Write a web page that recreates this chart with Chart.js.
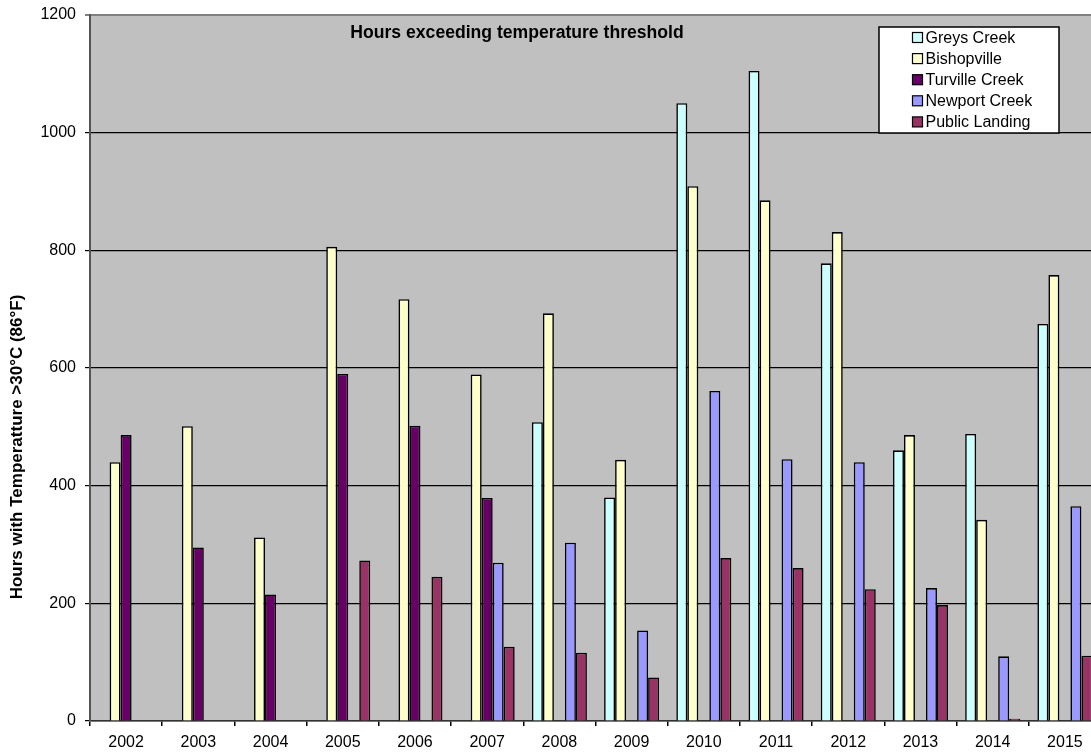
<!DOCTYPE html>
<html>
<head>
<meta charset="utf-8">
<script src="https://cdn.jsdelivr.net/npm/chart.js@4/dist/chart.umd.min.js"></script>
<style>
  html, body { margin: 0; padding: 0; background: #fff; overflow: hidden; width: 1091px; height: 756px; }
  canvas { display: block; }
</style>
</head>
<body>
<canvas id="chart" width="1101" height="756" style="width:1101px;height:756px"></canvas>
<script>
// Hours per year above the 30 °C threshold, by monitoring site
const years = ['2002', '2003', '2004', '2005', '2006', '2007', '2008', '2009', '2010', '2011', '2012', '2013', '2014', '2015'];
const greysCreek    = [null, null, null, null, null, null, 508, 380, 1050, 1105, 778, 460, 488, 675];
const bishopville   = [440, 501, 312, 806, 717, 589, 693, 444, 909, 885, 831, 486, 342, 758];
const turvilleCreek = [486, 295, 215, 590, 502, 379, null, null, null, null, null, null, null, null];
const newportCreek  = [null, null, null, null, null, 269, 303, 154, 561, 445, 440, 226, 110, 365];
const publicLanding = [null, null, null, 273, 245, 126, 116, 74, 277, 260, 224, 197, 4, 111];
const yTicks = [0, 200, 400, 600, 800, 1000, 1200];

const FONT = "'Liberation Sans', Arial, sans-serif";
const chartTitle = 'Hours exceeding temperature threshold';
const yTitle = 'Hours with Temperatture >30°C (86°F)';

// Grey plot background, title inside the plot, rotated axis title
const backdrop = {
  id: 'backdrop',
  beforeDraw(chart) {
    const { ctx, chartArea: a } = chart;
    ctx.save();
    ctx.fillStyle = '#ffffff';
    ctx.fillRect(0, 0, chart.width, chart.height);
    ctx.fillStyle = '#c0c0c0';
    ctx.fillRect(a.left, a.top, a.right - a.left, a.bottom - a.top);
    ctx.restore();
  },
  afterDraw(chart) {
    const { ctx } = chart;
    ctx.save();
    ctx.fillStyle = '#000';
    ctx.font = `bold 17.6px ${FONT}`;
    ctx.textAlign = 'center';
    ctx.textBaseline = 'middle';
    ctx.fillText(chartTitle, 517, 33);
    ctx.translate(17, 447);
    ctx.rotate(-Math.PI / 2);
    ctx.font = `bold 17px ${FONT}`;
    ctx.fillText(yTitle, 0, 0);
    ctx.restore();
  }
};

// Boxed legend in the upper right of the plot
const boxLegend = {
  id: 'boxLegend',
  afterDraw(chart) {
    const { ctx } = chart;
    const x = 879, y = 27, w = 180, h = 106;
    ctx.save();
    ctx.fillStyle = '#fff';
    ctx.fillRect(x, y, w, h);
    ctx.strokeStyle = '#000';
    ctx.lineWidth = 1.5;
    ctx.strokeRect(x, y, w, h);
    ctx.font = `16px ${FONT}`;
    ctx.textBaseline = 'middle';
    ctx.textAlign = 'left';
    chart.data.datasets.forEach((ds, i) => {
      const cy = 37.5 + i * 21.1;
      ctx.fillStyle = ds.backgroundColor;
      ctx.fillRect(912.5, cy - 5, 10, 10);
      ctx.lineWidth = 1.2;
      ctx.strokeStyle = '#000';
      ctx.strokeRect(912.5, cy - 5, 10, 10);
      ctx.fillStyle = '#000';
      ctx.fillText(ds.label, 925.5, cy + 1);
    });
    ctx.restore();
  }
};

const series = [
  { label: 'Greys Creek',    data: greysCreek,    backgroundColor: '#ccffff' },
  { label: 'Bishopville',    data: bishopville,   backgroundColor: '#ffffcc' },
  { label: 'Turville Creek', data: turvilleCreek, backgroundColor: '#660066' },
  { label: 'Newport Creek',  data: newportCreek,  backgroundColor: '#9999ff' },
  { label: 'Public Landing', data: publicLanding, backgroundColor: '#993366' }
];

new Chart(document.getElementById('chart'), {
  type: 'bar',
  data: {
    labels: years,
    datasets: series.map(s => ({
      ...s,
      borderColor: '#000',
      borderWidth: 1.6,
      borderSkipped: 'bottom',
      categoryPercentage: 0.762,
      barPercentage: 1.0
    }))
  },
  options: {
    responsive: false,
    animation: false,
    layout: { padding: { top: 15, left: 0, right: 0, bottom: 0 } },
    plugins: {
      legend: { display: false },
      title: { display: false },
      tooltip: { enabled: false }
    },
    scales: {
      x: {
        offset: true,
        afterFit(scale) {
          scale.height = 35;
          scale.paddingLeft = 0;
          scale.paddingRight = 0;
        },
        grid: {
          offset: true,
          drawOnChartArea: false,
          drawTicks: true,
          tickLength: 5,
          color: '#000',
          lineWidth: 1.5
        },
        border: { display: true, color: '#333', width: 1.5 },
        ticks: {
          color: '#000',
          font: { family: FONT, size: 16 },
          padding: 7,
          maxRotation: 0,
          autoSkip: false
        }
      },
      y: {
        min: 0,
        max: 1200,
        afterFit(scale) {
          scale.width = 90;
          scale.paddingTop = 0;
          scale.paddingBottom = 0;
        },
        afterBuildTicks(scale) { scale.ticks = yTicks.map(v => ({ value: v })); },
        grid: {
          drawTicks: true,
          tickLength: 5,
          color: ctx => (ctx.tick && ctx.tick.value === 1200) ? '#808080' : '#000',
          lineWidth: ctx => (ctx.tick && ctx.tick.value === 1200) ? 2 : 1.2
        },
        border: { display: true, color: '#555', width: 2 },
        ticks: {
          color: '#000',
          font: { family: FONT, size: 16 },
          padding: 9,
          callback: v => String(v)
        }
      }
    }
  },
  plugins: [backdrop, boxLegend]
});
</script>
</body>
</html>
